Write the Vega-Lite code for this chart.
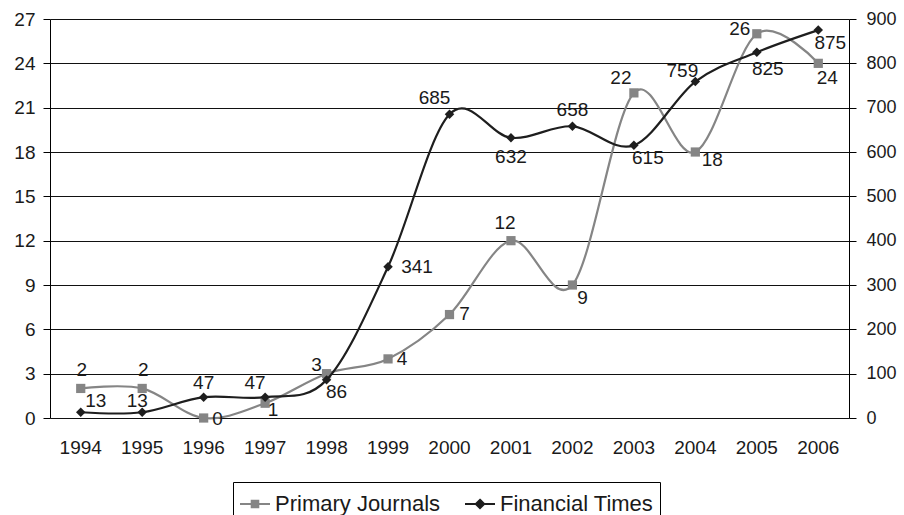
{
  "$schema": "https://vega.github.io/schema/vega-lite/v6.json",
  "width": 799,
  "height": 399,
  "autosize": "none",
  "padding": {"left": 50, "top": 19, "right": 55, "bottom": 97},
  "background": "white",
  "config": {
    "font": "Liberation Sans",
    "view": {"stroke": null},
    "axis": {"labelFont": "Liberation Sans", "labelColor": "#1a1a1a", "domainColor": "#000", "tickColor": "#000", "gridColor": "#111", "gridOpacity": 1}
  },
  "data": {
    "values": [
      {"year": 1994, "series": "Primary Journals", "value": 2},
      {"year": 1995, "series": "Primary Journals", "value": 2},
      {"year": 1996, "series": "Primary Journals", "value": 0},
      {"year": 1997, "series": "Primary Journals", "value": 1},
      {"year": 1998, "series": "Primary Journals", "value": 3},
      {"year": 1999, "series": "Primary Journals", "value": 4},
      {"year": 2000, "series": "Primary Journals", "value": 7},
      {"year": 2001, "series": "Primary Journals", "value": 12},
      {"year": 2002, "series": "Primary Journals", "value": 9},
      {"year": 2003, "series": "Primary Journals", "value": 22},
      {"year": 2004, "series": "Primary Journals", "value": 18},
      {"year": 2005, "series": "Primary Journals", "value": 26},
      {"year": 2006, "series": "Primary Journals", "value": 24},
      {"year": 1994, "series": "Financial Times", "value": 13},
      {"year": 1995, "series": "Financial Times", "value": 13},
      {"year": 1996, "series": "Financial Times", "value": 47},
      {"year": 1997, "series": "Financial Times", "value": 47},
      {"year": 1998, "series": "Financial Times", "value": 86},
      {"year": 1999, "series": "Financial Times", "value": 341},
      {"year": 2000, "series": "Financial Times", "value": 685},
      {"year": 2001, "series": "Financial Times", "value": 632},
      {"year": 2002, "series": "Financial Times", "value": 658},
      {"year": 2003, "series": "Financial Times", "value": 615},
      {"year": 2004, "series": "Financial Times", "value": 759},
      {"year": 2005, "series": "Financial Times", "value": 825},
      {"year": 2006, "series": "Financial Times", "value": 875}
    ]
  },
  "encoding": {
    "x": {
      "field": "year", "type": "ordinal",
      "scale": {"type": "band", "paddingInner": 0, "paddingOuter": 0},
      "axis": {"title": null, "labelAngle": 0, "ticks": false, "domain": false, "labelFontSize": 19, "labelPadding": 20}
    }
  },
  "layer": [
    {
      "transform": [{"filter": "datum.series === 'Primary Journals'"}],
      "encoding": {
        "y": {
          "field": "value", "type": "quantitative",
          "scale": {"domain": [0, 27], "nice": false},
          "axis": {"title": null, "orient": "left", "values": [0, 3, 6, 9, 12, 15, 18, 21, 24, 27], "grid": true, "tickSize": 7, "labelFontSize": 19, "labelPadding": 8}
        }
      },
      "layer": [
        {
          "mark": {"type": "line", "interpolate": "cardinal", "strokeWidth": 2.2},
          "encoding": {
            "color": {
              "field": "series", "type": "nominal",
              "scale": {"domain": ["Primary Journals", "Financial Times"], "range": ["#858585", "#1e1e1e"]},
              "legend": {
                "title": null, "orient": "none", "legendX": 183, "legendY": 463, "direction": "horizontal",
                "strokeColor": "#000", "padding": 6, "labelFontSize": 22, "labelLimit": 400, "labelColor": "#1a1a1a", "labelFont": "Liberation Sans",
                "symbolSize": 900, "symbolStrokeWidth": 2, "columnPadding": 20, "labelOffset": 4,
                "encode": {
                  "symbols": {
                    "update": {
                      "shape": {"signal": "datum.value === 'Primary Journals' ? 'M-1,0H1M-0.22,-0.22H0.22V0.22H-0.22Z' : 'M-1,0H1M0,-0.28L0.28,0L0,0.28L-0.28,0Z'"},
                      "fill": {"signal": "datum.value === 'Primary Journals' ? '#858585' : '#1e1e1e'"},
                      "stroke": {"signal": "datum.value === 'Primary Journals' ? '#858585' : '#1e1e1e'"},
                      "strokeWidth": {"value": 2},
                      "opacity": {"value": 1}
                    }
                  }
                }
              }
            }
          }
        },
        {
          "mark": {"type": "point", "shape": "square", "filled": true, "size": 85, "color": "#858585", "opacity": 1}
        },
        {
          "mark": {
            "type": "text", "fontSize": 19, "color": "#1a1a1a", "align": "center", "baseline": "middle",
            "dx": {"expr": "[1,1,14,8,-10,14,15,-6,10,-13,17,-17,9][datum.year - 1994]"},
            "dy": {"expr": "[-18,-18,1,7,-9,0,-1,-18,13,-15,8,-5,15][datum.year - 1994]"}
          },
          "encoding": {"text": {"field": "value", "type": "quantitative"}}
        }
      ]
    },
    {
      "transform": [{"filter": "datum.series === 'Financial Times'"}],
      "encoding": {
        "y": {
          "field": "value", "type": "quantitative",
          "scale": {"domain": [0, 900], "nice": false},
          "axis": {"title": null, "orient": "right", "values": [0, 100, 200, 300, 400, 500, 600, 700, 800, 900], "grid": false, "tickSize": 7, "labelFontSize": 18, "labelPadding": 10}
        }
      },
      "layer": [
        {
          "mark": {"type": "line", "interpolate": "cardinal", "strokeWidth": 2.2},
          "encoding": {
            "color": {"field": "series", "type": "nominal"}
          }
        },
        {
          "mark": {"type": "point", "shape": "diamond", "filled": true, "size": 90, "color": "#1e1e1e", "opacity": 1}
        },
        {
          "mark": {
            "type": "text", "fontSize": 19, "color": "#1a1a1a", "align": "center", "baseline": "middle",
            "dx": {"expr": "[15,-5,0,-10,10,29,-15,0,0,14,-13,11,12][datum.year - 1994]"},
            "dy": {"expr": "[-11,-11,-14,-14,12,0,-16,19,-16,13,-11,17,13][datum.year - 1994]"}
          },
          "encoding": {"text": {"field": "value", "type": "quantitative"}}
        }
      ]
    }
  ],
  "resolve": {"scale": {"y": "independent"}}
}
